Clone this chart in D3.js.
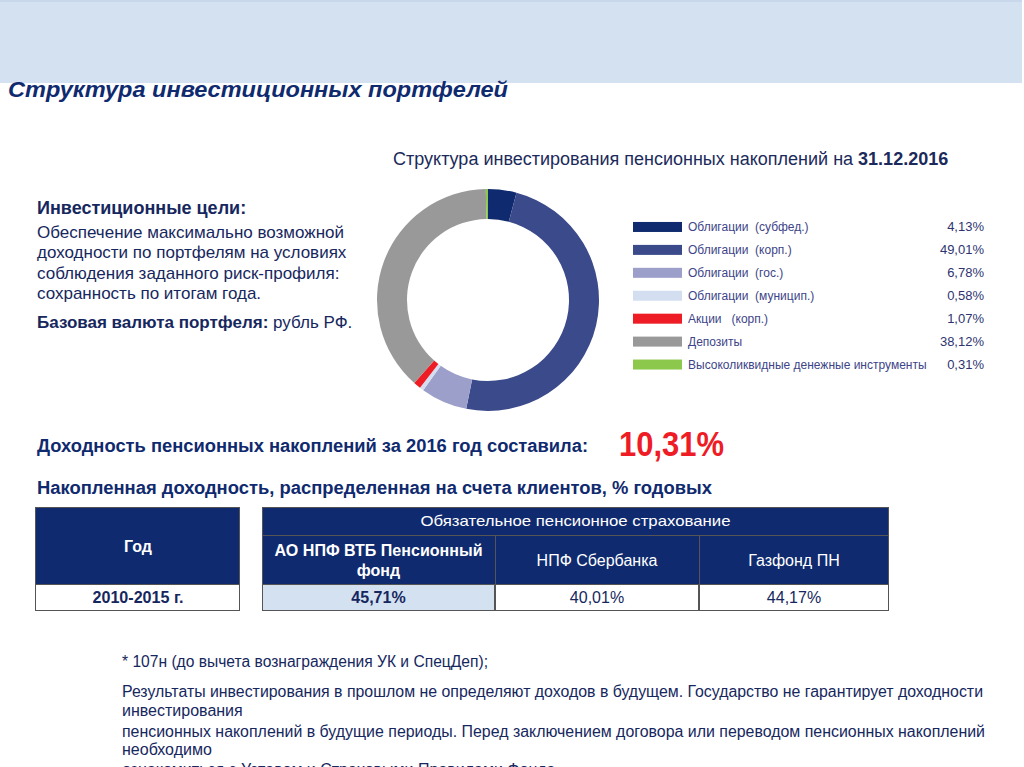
<!DOCTYPE html>
<html><head><meta charset="utf-8">
<script src="https://cdn.jsdelivr.net/npm/d3@7"></script>
<style>
html,body{margin:0;padding:0;background:#fff;overflow:hidden}
svg{display:block}
text{white-space:pre}
</style></head>
<body>
<svg id="c" width="1024" height="767"></svg>
<script>
// ---- data ----
const categories = ["Облигации  (субфед.)","Облигации  (корп.)","Облигации  (гос.)","Облигации  (муницип.)","Акции   (корп.)","Депозиты","Высоколиквидные денежные инструменты"];
const shares = [4.13, 49.01, 6.78, 0.58, 1.07, 38.12, 0.31];
const shareLabels = ["4,13%","49,01%","6,78%","0,58%","1,07%","38,12%","0,31%"];
const colors = ["#0f2a6e","#3a4a8a","#9c9fc9","#d3dff0","#ee1c25","#999999","#8cc84b"];
const funds = ["АО НПФ ВТБ Пенсионный фонд","НПФ Сбербанка","Газфонд ПН"];
const fundReturns = ["45,71%","40,01%","44,17%"];
const period = "2010-2015 г.";
const footnotes = [
 "* 107н (до вычета вознаграждения УК и СпецДеп);",
 "Результаты инвестирования в прошлом не определяют доходов в будущем. Государство не гарантирует доходности",
 "инвестирования",
 "пенсионных накоплений в будущие периоды. Перед заключением договора или переводом пенсионных накоплений",
 "необходимо",
 "ознакомиться с Уставом и Страховыми Правилами Фонда."
];

const svg = d3.select("#c");
const NAVY = "#0f2a6e";
const NARROW = "'Liberation Sans Narrow','Arial Narrow','Liberation Sans',Arial,sans-serif";
const SANS = "'Liberation Sans',Arial,sans-serif";

// header band
svg.append("rect").attr("x",0).attr("y",0).attr("width",1022).attr("height",83).attr("fill","#d4e1f1");
svg.append("rect").attr("x",0).attr("y",0).attr("width",1022).attr("height",2).attr("fill","#c9d7ea");

function narrowText(x,y,txt,opts){
  const t = svg.append("text").attr("x",x).attr("y",y).text(txt)
    .attr("font-family",opts.family||NARROW).attr("font-size",opts.size)
    .attr("font-weight",opts.weight||"normal").attr("fill",opts.fill||NAVY)
    .attr("font-style",opts.style||"normal");
  if(opts.anchor) t.attr("text-anchor",opts.anchor);
  if(opts.len){ t.attr("textLength",opts.len).attr("lengthAdjust","spacingAndGlyphs"); }
  return t;
}

// title
narrowText(8,97,"Структура инвестиционных портфелей",{size:22,weight:"bold",style:"italic",len:500});

// donut title
const dt = svg.append("text").attr("x",393).attr("y",165).attr("font-family",SANS).attr("font-size",18).attr("fill","#1b2a5a");
dt.append("tspan").text("Структура инвестирования пенсионных накоплений на ");
dt.append("tspan").attr("font-weight","bold").text("31.12.2016");

// left text
const lx = 37;
svg.append("text").attr("x",lx).attr("y",214).attr("font-family",SANS).attr("font-size",18).attr("font-weight","bold").attr("fill","#16275e").text("Инвестиционные цели:");
const goalLines = ["Обеспечение максимально возможной","доходности по портфелям на условиях","соблюдения заданного риск-профиля:","сохранность по итогам года."];
goalLines.forEach((s,i)=>{
  svg.append("text").attr("x",lx).attr("y",238+i*20.3).attr("font-family",SANS).attr("font-size",17).attr("fill","#16275e").text(s);
});
const bv = svg.append("text").attr("x",lx).attr("y",328).attr("font-family",SANS).attr("font-size",17).attr("fill","#16275e");
bv.append("tspan").attr("font-weight","bold").text("Базовая валюта портфеля:");
bv.append("tspan").text(" рубль РФ.");

// donut
const cx = 488, cy = 300;
const pie = d3.pie().sort(null).value(d=>d)(shares);
const arc = d3.arc().innerRadius(81).outerRadius(111);
svg.append("g").attr("transform",`translate(${cx},${cy})`)
  .selectAll("path").data(pie).join("path")
  .attr("d",arc).attr("fill",(d,i)=>colors[i]);

// legend
const ly = d3.scaleBand().domain(d3.range(categories.length)).range([215.5,376]);
const lg = svg.append("g");
categories.forEach((c,i)=>{
  const yc = ly(i)+ly.bandwidth()/2;
  lg.append("rect").attr("x",633).attr("y",yc-5).attr("width",49).attr("height",10).attr("fill",colors[i]);
  lg.append("text").attr("x",688).attr("y",yc+4.5).attr("font-family",SANS).attr("font-size",12).attr("fill","#3d4488").text(c);
  lg.append("text").attr("x",984).attr("y",yc+4.5).attr("text-anchor","end").attr("font-family",SANS).attr("font-size",13).attr("fill","#2e3470").text(shareLabels[i]);
});

// returns
narrowText(37,452,"Доходность пенсионных накоплений за 2016 год составила:",{size:18,weight:"bold",len:551});
narrowText(619,456,"10,31%",{size:35,weight:"bold",fill:"#ee1c25",len:105});
narrowText(37,494,"Накопленная доходность, распределенная на счета клиентов, % годовых",{size:18,weight:"bold",len:675});

// table
const border = "#555";
const tg = svg.append("g");
// left block
tg.append("rect").attr("x",35).attr("y",507).attr("width",205).attr("height",77).attr("fill",NAVY);
tg.append("rect").attr("x",35.5).attr("y",584.5).attr("width",204).attr("height",26).attr("fill","#fff").attr("stroke",border);
tg.append("rect").attr("x",35.5).attr("y",507.5).attr("width",204).attr("height",103).attr("fill","none").attr("stroke",border);
narrowText(138,552,"Год",{size:16,weight:"bold",fill:"#fff",anchor:"middle"});
narrowText(138,603,period,{size:16,weight:"bold",fill:"#16275e",anchor:"middle",len:91});

// right block
const colX = [262,495,699,889];
tg.append("rect").attr("x",262).attr("y",507).attr("width",627).attr("height",77).attr("fill",NAVY);
tg.append("line").attr("x1",262).attr("x2",889).attr("y1",535.5).attr("y2",535.5).attr("stroke",border);
narrowText(575.5,526,"Обязательное пенсионное страхование",{size:15,fill:"#fff",anchor:"middle",len:310});
funds.forEach((f,i)=>{
  const mx = (colX[i]+colX[i+1])/2;
  if(i>0) tg.append("line").attr("x1",colX[i]+0.5).attr("x2",colX[i]+0.5).attr("y1",535).attr("y2",611).attr("stroke",border);
  tg.append("rect").attr("x",colX[i]+0.5).attr("y",584.5).attr("width",colX[i+1]-colX[i]-1).attr("height",26)
    .attr("fill",i===0?"#d4e1f1":"#fff").attr("stroke",border);
  if(i===0){
    narrowText(mx,556,"АО НПФ ВТБ Пенсионный",{size:16,weight:"bold",fill:"#fff",anchor:"middle",len:208});
    narrowText(mx,576,"фонд",{size:16,weight:"bold",fill:"#fff",anchor:"middle"});
  } else {
    narrowText(mx,566,f,{size:16,fill:"#fff",anchor:"middle"});
  }
  narrowText(mx,603,fundReturns[i],{size:16,weight:i===0?"bold":"normal",fill:"#16275e",anchor:"middle"});
});
tg.append("rect").attr("x",262.5).attr("y",507.5).attr("width",626).attr("height",103).attr("fill","none").attr("stroke",border);

// footnotes
const fy = [667,697,716,737,755,775];
const flen = [366,861,null,863,null,null];
footnotes.forEach((s,i)=>{
  narrowText(122,fy[i],s,{size:16,fill:"#16275e",len:flen[i]});
});
</script>
</body></html>
